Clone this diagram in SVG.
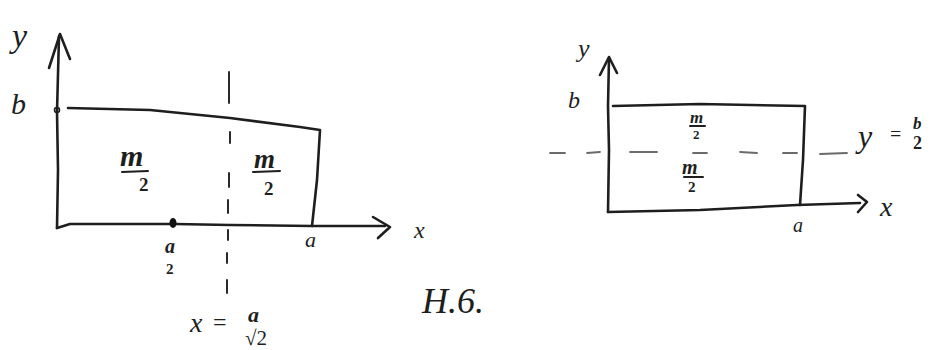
<svg xmlns="http://www.w3.org/2000/svg" width="936" height="350" viewBox="0 0 936 350">
<style>
.ln{fill:none;stroke:#1e1e1e;stroke-width:2.6;stroke-linecap:round;stroke-linejoin:round}
.ds{fill:none;stroke:#2a2a2a;stroke-width:2;stroke-linecap:round}
.dl{fill:none;stroke:#6a6a6a;stroke-width:1.8;stroke-linecap:round}
.t{font-family:"Liberation Serif",serif;font-style:italic;fill:#1e1e1e}
.s{font-family:"Liberation Serif",serif;fill:#1e1e1e}
.b{font-weight:bold}
.bar{stroke:#1e1e1e;stroke-width:2;stroke-linecap:round}
</style>
<rect width="936" height="350" fill="#fff"/>
<g id="left-plot">
  <g id="left-axes">
    <path class="ln" d="M57 228 L58 170 L57 112 L59 36"/>
    <path class="ln" d="M49 68 L60 34 L70 59"/>
    <path class="ln" d="M57 228 L70 224 L130 224 L175 224 L230 225 L312 226 L385 226"/>
    <path class="ln" d="M373 217 L390 227 L378 238"/>
  </g>
  <g id="left-shape">
    <circle cx="57" cy="110" r="2.5" fill="none" stroke="#1e1e1e" stroke-width="1.6"/>
    <path class="ln" d="M68 108 L150 110 L230 118 L300 127 L320 130 L317 180 L312 226"/>
    <ellipse cx="173" cy="223" rx="3.5" ry="5" fill="#111"/>
  </g>
  <g id="left-divider">
    <path class="ds" d="M229 72 L229 103 M230 132 L230 143 M229 173 L229 187 M228 200 L228 213 M228 230 L228 240 M227 253 L227 263 M227 280 L227 293"/>
  </g>
  <g id="left-labels">
    <text class="t" x="12" y="47" font-size="34">y</text>
    <text class="t" x="11" y="114" font-size="30">b</text>
    <text class="t b" x="120" y="166" font-size="30">m</text>
    <line class="bar" x1="122" y1="172" x2="148" y2="171"/>
    <text class="s b" x="139" y="191" font-size="19">2</text>
    <text class="t b" x="254" y="168" font-size="27">m</text>
    <line class="bar" x1="253" y1="172" x2="280" y2="171"/>
    <text class="s b" x="264" y="195" font-size="19">2</text>
    <text class="t b" x="165" y="253" font-size="20">a</text>
    <text class="s b" x="166" y="274" font-size="15">2</text>
    <text class="t" x="305" y="247" font-size="22">a</text>
    <text class="t" x="414" y="238" font-size="24">x</text>
    <text class="t" x="190" y="332" font-size="28">x</text>
    <text class="s" x="213" y="330" font-size="24">=</text>
    <text class="t b" x="248" y="322" font-size="22">a</text>
    <text class="s" x="245" y="345" font-size="21">√2</text>
  </g>
</g>
<g id="caption">
  <text class="t" x="422" y="313" font-size="36">H.6.</text>
</g>
<g id="right-plot">
  <g id="right-axes">
    <path class="ln" d="M608 212 L609 150 L608 106 L609 58"/>
    <path class="ln" d="M600 75 L609 57 L617 73"/>
    <path class="ln" d="M608 212 L700 210 L797 205 L860 203"/>
    <path class="ln" d="M858 195 L867 202 L858 212"/>
  </g>
  <g id="right-shape">
    <path class="ln" d="M613 106 L700 104 L805 106 L803 160 L800 205"/>
  </g>
  <g id="right-divider">
    <path class="dl" d="M550 153 L565 153 M587 153 L600 152 M630 152 L657 152 M693 153 L707 153 M740 152 L757 153 M783 153 L797 153 M820 154 L847 153"/>
  </g>
  <g id="right-labels">
    <text class="t" x="578" y="57" font-size="26">y</text>
    <text class="t" x="568" y="108" font-size="24">b</text>
    <text class="t b" x="690" y="123" font-size="17">m</text>
    <line class="bar" x1="690" y1="126" x2="705" y2="126"/>
    <text class="s b" x="693" y="139" font-size="13">2</text>
    <text class="t b" x="682" y="174" font-size="20">m</text>
    <line class="bar" x1="684" y1="177" x2="703" y2="177"/>
    <text class="s b" x="688" y="192" font-size="15">2</text>
    <text class="t" x="793" y="232" font-size="20">a</text>
    <text class="t" x="880" y="216" font-size="28">x</text>
    <text class="t" x="858" y="147" font-size="32">y</text>
    <text class="s" x="890" y="141" font-size="20">=</text>
    <text class="t b" x="913" y="129" font-size="17">b</text>
    <text class="s b" x="913" y="149" font-size="18">2</text>
  </g>
</g>
</svg>
